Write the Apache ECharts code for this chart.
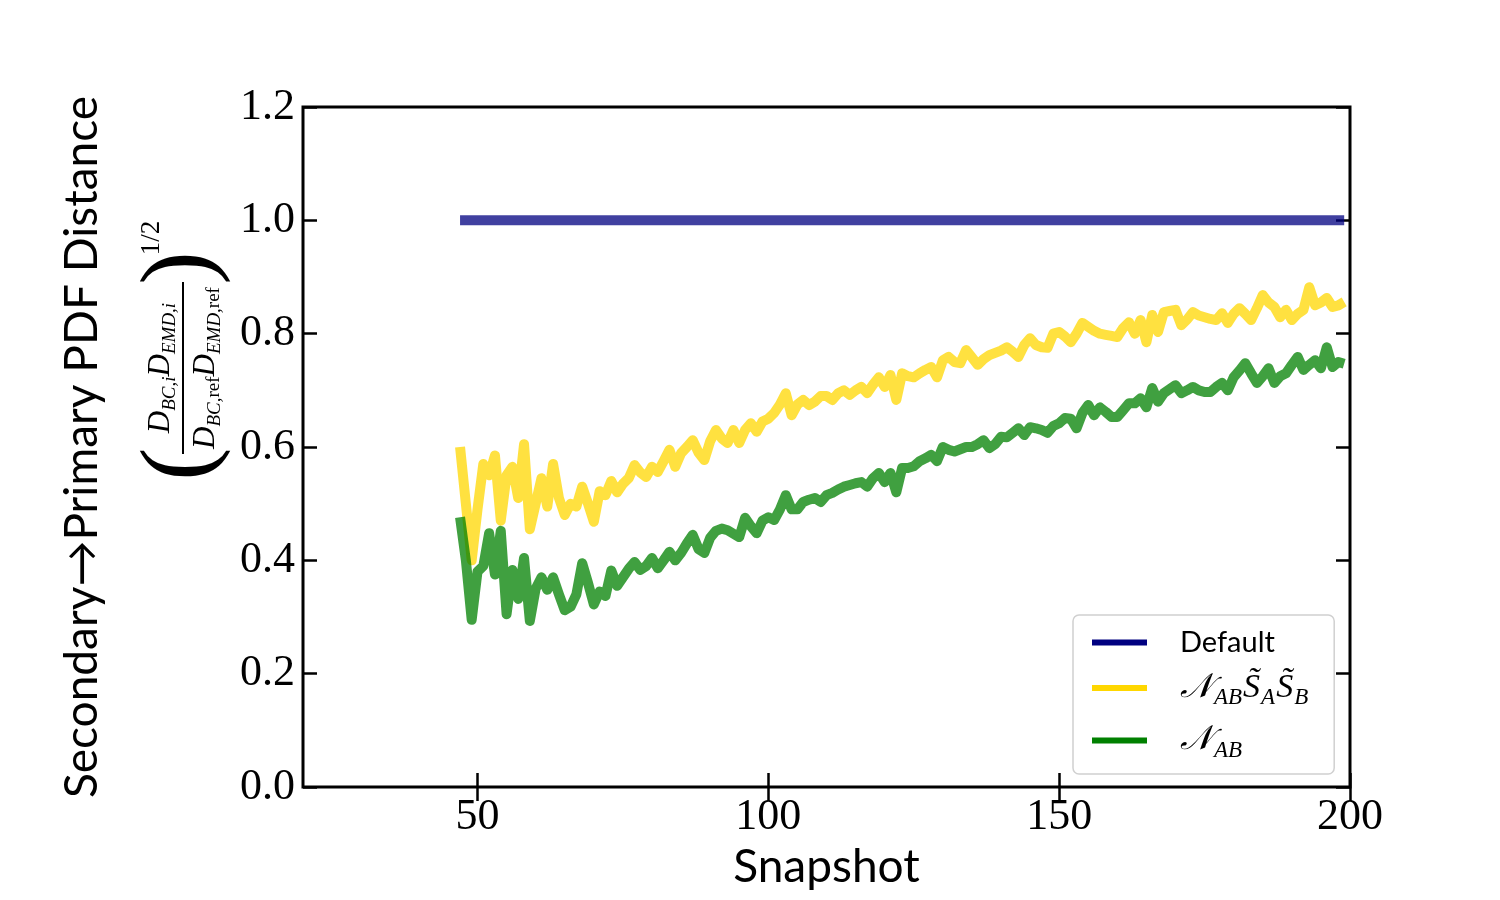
<!DOCTYPE html>
<html>
<head>
<meta charset="utf-8">
<script src="https://cdn.jsdelivr.net/npm/echarts@6/dist/echarts.min.js"></script>
<style>html,body{margin:0;padding:0;background:#fff;}#chart{width:1500px;height:900px;}</style>
</head>
<body>
<div id="chart"></div>
<script>
// Snapshot numbers 47..199
const snapshots = [];
for (let s = 47; s <= 199; s++) snapshots.push(s);

const defaultVals = [
  1,1,1,1,1,1,1,1,1,1, 1,1,1,1,1,1,1,1,1,1, 1,1,1,1,1,1,1,1,1,1,
  1,1,1,1,1,1,1,1,1,1, 1,1,1,1,1,1,1,1,1,1, 1,1,1,1,1,1,1,1,1,1,
  1,1,1,1,1,1,1,1,1,1, 1,1,1,1,1,1,1,1,1,1, 1,1,1,1,1,1,1,1,1,1,
  1,1,1,1,1,1,1,1,1,1, 1,1,1,1,1,1,1,1,1,1, 1,1,1,1,1,1,1,1,1,1,
  1,1,1,1,1,1,1,1,1,1, 1,1,1,1,1,1,1,1,1,1, 1,1,1,1,1,1,1,1,1,1,
  1,1,1
];

const nssVals = [
  0.60,0.50,0.40,0.49,0.57,0.55,0.585,0.47,0.55,0.565,
  0.51,0.605,0.455,0.50,0.545,0.495,0.57,0.51,0.48,0.50,
  0.495,0.53,0.50,0.468,0.522,0.515,0.54,0.52,0.535,0.545,
  0.568,0.555,0.547,0.565,0.556,0.575,0.595,0.565,0.589,0.60,
  0.612,0.59,0.577,0.61,0.63,0.615,0.607,0.63,0.607,0.63,
  0.642,0.627,0.645,0.65,0.66,0.675,0.695,0.656,0.675,0.683,
  0.674,0.68,0.69,0.69,0.683,0.695,0.70,0.692,0.70,0.706,
  0.695,0.71,0.723,0.706,0.727,0.683,0.73,0.725,0.723,0.73,
  0.736,0.741,0.723,0.753,0.759,0.75,0.748,0.771,0.758,0.745,
  0.755,0.762,0.766,0.77,0.776,0.768,0.759,0.78,0.792,0.78,
  0.776,0.775,0.80,0.803,0.795,0.785,0.80,0.819,0.812,0.805,
  0.80,0.798,0.796,0.794,0.81,0.82,0.80,0.824,0.785,0.833,
  0.803,0.838,0.84,0.842,0.815,0.825,0.838,0.832,0.829,0.826,
  0.824,0.836,0.819,0.835,0.845,0.835,0.824,0.845,0.868,0.855,
  0.847,0.829,0.842,0.824,0.835,0.842,0.882,0.85,0.855,0.863,
  0.847,0.85,0.856
];

const nVals = [
  0.476,0.40,0.295,0.38,0.39,0.448,0.375,0.452,0.305,0.383,
  0.332,0.404,0.293,0.35,0.37,0.348,0.37,0.34,0.312,0.318,
  0.34,0.395,0.36,0.322,0.345,0.337,0.382,0.355,0.37,0.385,
  0.397,0.383,0.39,0.404,0.386,0.40,0.415,0.40,0.413,0.43,
  0.445,0.42,0.413,0.44,0.452,0.456,0.453,0.447,0.441,0.475,
  0.46,0.448,0.47,0.476,0.471,0.49,0.515,0.49,0.49,0.503,
  0.507,0.51,0.503,0.515,0.519,0.525,0.53,0.533,0.536,0.538,
  0.53,0.545,0.554,0.538,0.554,0.52,0.563,0.563,0.566,0.575,
  0.58,0.586,0.575,0.60,0.595,0.592,0.596,0.60,0.60,0.605,
  0.612,0.598,0.605,0.618,0.617,0.625,0.633,0.621,0.635,0.633,
  0.63,0.625,0.637,0.642,0.651,0.65,0.633,0.66,0.674,0.656,
  0.67,0.662,0.653,0.653,0.665,0.677,0.677,0.686,0.67,0.704,
  0.68,0.695,0.702,0.709,0.695,0.70,0.706,0.70,0.697,0.697,
  0.706,0.713,0.70,0.723,0.735,0.748,0.73,0.713,0.725,0.739,
  0.713,0.725,0.73,0.745,0.759,0.736,0.745,0.753,0.739,0.776,
  0.741,0.75,0.747
];

const xTicks = [50, 100, 150, 200];
const seriesNames = ['Default', 'NSS', 'N'];
const seriesColors = ['#000080', '#FFD700', '#008000'];

const zip = vals => snapshots.map((s, i) => [s, vals[i]]);

const serif = 'Liberation Serif';
const sans = 'Lato';

const legendRich = {
  n: { fontFamily: serif, fontStyle: 'italic', fontSize: 34, lineHeight: 38, color: '#000' },
  s: { fontFamily: serif, fontStyle: 'italic', fontSize: 23, padding: [20, 1, 0, 1], color: '#000' },
  t: { fontFamily: sans, fontSize: 29, lineHeight: 38, color: '#000' }
};
const legendText = {
  'Default': '{t|Default}',
  'NSS': '{n|𝒩}{s|AB}{n|S̃}{s|A}{n|S̃}{s|B}',
  'N': '{n|𝒩}{s|AB}'
};

const chart = echarts.init(document.getElementById('chart'), null, { renderer: 'canvas' });

function lineSeries(name, vals, color) {
  return {
    name: name, type: 'line', data: zip(vals), symbol: 'none', showSymbol: false,
    color: color,
    lineStyle: { width: 10, color: color, opacity: 0.75, cap: 'butt', join: 'round' },
    emphasis: { disabled: true }, animation: false
  };
}

const tickStyle = { show: true, inside: true, length: 14, lineStyle: { color: '#000', width: 2.5 } };

const option = {
  animation: false,
  grid: { left: 303, right: 150, top: 107, bottom: 113, outerBoundsMode: 'none', containLabel: false,
          show: true, borderColor: '#000', borderWidth: 3, backgroundColor: 'transparent' },
  xAxis: [
    { type: 'value', min: 20, max: 200, position: 'bottom',
      axisLine: { show: false },
      axisTick: Object.assign({ customValues: xTicks }, tickStyle),
      axisLabel: { customValues: xTicks, fontFamily: serif, fontSize: 44, color: '#000', margin: 8 },
      splitLine: { show: false },
      name: 'Snapshot', nameLocation: 'middle', nameGap: 57,
      nameTextStyle: { fontFamily: sans, fontSize: 46, color: '#000' } },
    { type: 'value', min: 20, max: 200, position: 'top',
      axisLine: { show: false },
      axisTick: Object.assign({ customValues: xTicks }, tickStyle),
      axisLabel: { show: false }, splitLine: { show: false } }
  ],
  yAxis: [
    { type: 'value', min: 0, max: 1.2, interval: 0.2, position: 'left',
      axisLine: { show: false }, axisTick: tickStyle,
      axisLabel: { formatter: v => v.toFixed(1), fontFamily: serif, fontSize: 44, color: '#000', margin: 8 },
      splitLine: { show: false } },
    { type: 'value', min: 0, max: 1.2, interval: 0.2, position: 'right',
      axisLine: { show: false }, axisTick: tickStyle,
      axisLabel: { show: false }, splitLine: { show: false } }
  ],
  legend: {
    orient: 'vertical', left: 1073, top: 615,
    data: seriesNames,
    icon: 'rect', itemWidth: 55, itemHeight: 6, itemGap: 14,
    padding: [13, 26, 12, 19],
    backgroundColor: '#fff', borderColor: '#d0d0d0', borderWidth: 1.5, borderRadius: 6,
    formatter: name => legendText[name],
    textStyle: { padding: [0, 0, 0, 28], rich: legendRich },
    selectedMode: false
  },
  graphic: [
    { type: 'text', x: 82, y: 447, rotation: Math.PI / 2,
      style: { text: 'Secondary→Primary PDF Distance', fontFamily: sans, fontSize: 46, fill: '#000', align: 'center', verticalAlign: 'middle' } },
    { type: 'group', x: 183, y: 368, rotation: Math.PI / 2,
      children: [
        { type: 'text', x: 0, y: -4,
          style: { text: '{d|D}{s|BC,i}{d|D}{s|EMD,i}', align: 'center', verticalAlign: 'bottom', fill: '#000',
            rich: {
              d: { fontFamily: serif, fontStyle: 'italic', fontSize: 31 },
              s: { fontFamily: serif, fontStyle: 'italic', fontSize: 19, padding: [18, 0, 0, 0] }
            } } },
        { type: 'line', shape: { x1: -86, y1: 0, x2: 86, y2: 0 }, style: { stroke: '#000', lineWidth: 2 } },
        { type: 'text', x: 0, y: 4,
          style: { text: '{d|D}{s|BC,}{r|ref}{d|D}{s|EMD,}{r|ref}', align: 'center', verticalAlign: 'top', fill: '#000',
            rich: {
              d: { fontFamily: serif, fontStyle: 'italic', fontSize: 31 },
              s: { fontFamily: serif, fontStyle: 'italic', fontSize: 19, padding: [18, 0, 0, 0] },
              r: { fontFamily: serif, fontSize: 19, padding: [18, 0, 0, 0] }
            } } },
        { type: 'text', x: -96, y: 0, style: { text: '(', fontFamily: serif, fontSize: 100, fill: '#000', align: 'center', verticalAlign: 'middle' } },
        { type: 'text', x: 100, y: 0, style: { text: ')', fontFamily: serif, fontSize: 100, fill: '#000', align: 'center', verticalAlign: 'middle' } },
        { type: 'text', x: 130, y: -31, style: { text: '1/2', fontFamily: serif, fontSize: 27, fill: '#000', align: 'center', verticalAlign: 'middle' } }
      ] }
  ],
  series: [
    lineSeries('Default', defaultVals, seriesColors[0]),
    lineSeries('NSS', nssVals, seriesColors[1]),
    lineSeries('N', nVals, seriesColors[2])
  ]
};
chart.setOption(option);
</script>
</body>
</html>
